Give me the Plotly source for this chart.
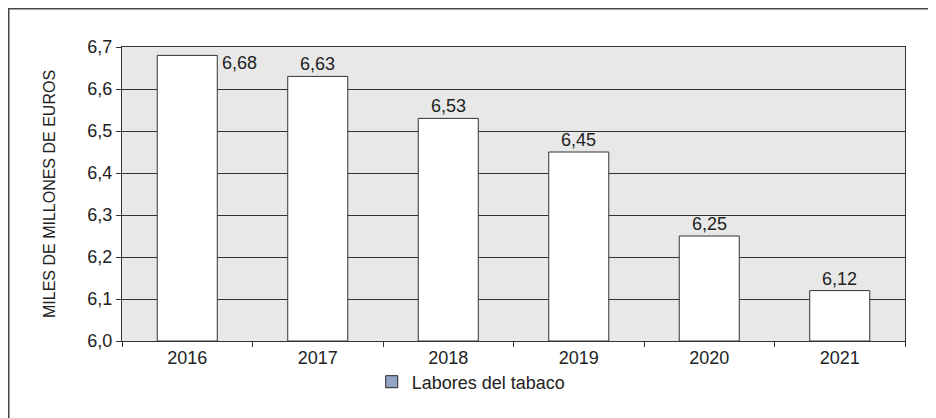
import plotly.graph_objects as go

years = ["2016", "2017", "2018", "2019", "2020", "2021"]
values = [6.68, 6.63, 6.53, 6.45, 6.25, 6.12]
labels = ["6,68", "6,63", "6,53", "6,45", "6,25", "6,12"]
series_name = "Labores del tabaco"
y_title = "MILES DE MILLONES DE EUROS"

W, H = 936, 418
ml, mr, mt, mb = 114, 39, 39, 85
pw, ph = W - ml - mr, H - mt - mb

font = "Liberation Sans, Arial, sans-serif"
txt = "#222222"
fs = 18

fig = go.Figure()
fig.add_trace(go.Bar(
    x=years, y=[v - 6.0 for v in values], base=6.0,
    marker=dict(color="white", line=dict(color="#333333", width=1)),
    showlegend=False, hoverinfo="skip",
))
fig.add_trace(go.Bar(
    x=[years[0]], y=[None], base=6.0, name=series_name,
    marker=dict(color="#93a6c7", line=dict(color="#222222", width=1)),
    hoverinfo="skip",
))

ann = []
for i, (v, lab) in enumerate(zip(values, labels)):
    if i == 0:
        ann.append(dict(x=i, y=v, text=lab, showarrow=False, xanchor="left",
                        yanchor="top", xshift=33, yshift=4,
                        font=dict(family=font, size=fs, color=txt)))
    else:
        ann.append(dict(x=i, y=v, text=lab, showarrow=False, xanchor="center",
                        yanchor="bottom", yshift=0,
                        font=dict(family=font, size=fs, color=txt)))

ann.append(dict(xref="paper", yref="paper", x=(41 - ml) / pw, y=0.5,
                text=y_title, textangle=-90, showarrow=False,
                xanchor="center", yanchor="middle",
                font=dict(family=font, size=16, color=txt)))

# outer frame
shapes = [dict(type="rect", xref="paper", yref="paper",
               x0=(0.75 - ml) / pw, x1=(927 - ml) / pw,
               y0=-(H + 10 - mt - ph) / ph, y1=1 + (mt - 0.75) / ph,
               line=dict(color="#444444", width=1.5), fillcolor="rgba(0,0,0,0)",
               layer="below")]

fig.update_layout(
    width=W, height=H,
    margin=dict(l=ml, r=mr, t=mt, b=mb),
    paper_bgcolor="white", plot_bgcolor="#e8e8e8",
    separators=",.",
    barmode="overlay",
    bargap=0.54,
    font=dict(family=font, size=fs, color=txt),
    showlegend=True,
    legend=dict(orientation="h", x=0.446, xanchor="center", y=-(374 - 333) / ph,
                yanchor="middle",
                font=dict(family=font, size=fs, color=txt), bgcolor="rgba(0,0,0,0)"),
    annotations=ann,
    shapes=shapes,
    xaxis=dict(type="category", categoryorder="array", categoryarray=years,
               range=[-0.5, len(years) - 0.5], tickangle=0,
               showline=True, linecolor="#333333", linewidth=1,
               mirror=True, ticks="outside", tickson="boundaries", ticklen=5,
               tickcolor="#333333", showgrid=False,
               tickfont=dict(family=font, size=fs, color=txt)),
    yaxis=dict(range=[6.0, 6.7], dtick=0.1, tickformat=".1f", showline=True,
               linecolor="#333333", linewidth=1, mirror=True, ticks="outside",
               ticklen=5, tickcolor="#333333", showgrid=True, gridcolor="#333333",
               gridwidth=1, zeroline=False,
               tickfont=dict(family=font, size=fs, color=txt)),
)

fig.write_html("out.html")
